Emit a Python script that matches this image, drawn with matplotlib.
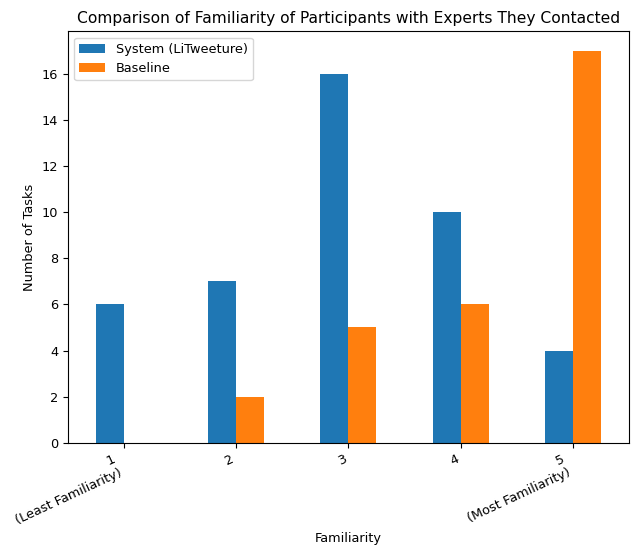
import numpy as np
import matplotlib
matplotlib.use("Agg")
import matplotlib.pyplot as plt

plt.rcParams["font.size"] = 9.3

categories = ["1\n(Least Familiarity)", "2", "3", "4", "5\n(Most Familiarity)"]
system = [6, 7, 16, 10, 4]
baseline = [0, 2, 5, 6, 17]

fig, ax = plt.subplots(figsize=(6.34, 5.46), dpi=100)
x = np.arange(len(categories))
w = 0.25
ax.bar(x - w / 2, system, w, color="#1f77b4", label="System (LiTweeture)")
ax.bar(x + w / 2, baseline, w, color="#ff7f0e", label="Baseline")
ax.set_xlim(-0.5, len(categories) - 0.5)
ax.set_xticks(x)
ax.set_xticklabels(categories, rotation=25, ha="right")
ax.set_xlabel("Familiarity")
ax.set_ylabel("Number of Tasks")
ax.set_title("Comparison of Familiarity of Participants with Experts They Contacted")
ax.legend(loc="upper left")

fig.subplots_adjust(left=0.107, right=0.992, top=0.943, bottom=0.189)
fig.savefig("out.png", dpi=100)
